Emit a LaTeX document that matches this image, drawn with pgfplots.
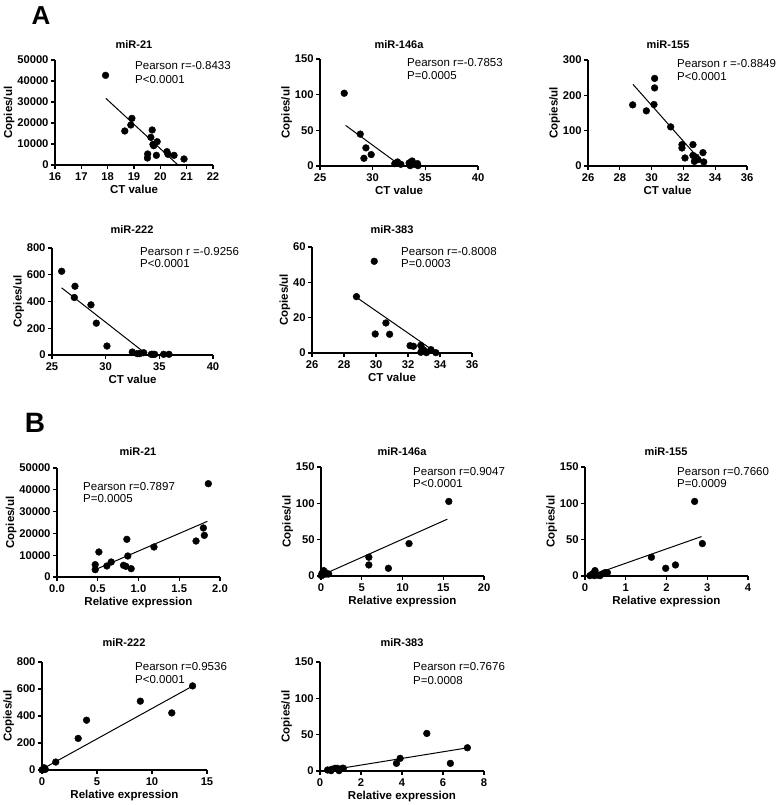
\documentclass[border=0pt]{standalone}
\usepackage{fontspec}
\setmainfont{Liberation Sans}
\usepackage{pgfplots}
\pgfplotsset{compat=1.18}
\pgfplotsset{
  gp/.style={
    scale only axis,
    axis x line*=bottom, axis y line*=left,
    axis line style={-, line width=1.3bp, black},
    tick align=outside, major tick length=4bp,
    tick style={line width=1.3bp, black},
    ticklabel style={font=\bfseries\fontsize{11.2bp}{13bp}\selectfont},
    yticklabel style={xshift=1bp},
    scaled ticks=false,
    /pgf/number format/assume math mode=true,
    /pgf/number format/fixed,
    /pgf/number format/set thousands separator={},
    xlabel style={font=\bfseries\fontsize{11.5bp}{13bp}\selectfont, yshift=2bp},
    ylabel style={font=\bfseries\fontsize{11.5bp}{13bp}\selectfont, yshift=-4bp},
    clip=false, anchor=south west,
  },
  dots/.style={only marks, mark=*, mark size=3.4bp, black, mark options={fill=black}},
  fitl/.style={no marks, black, line width=1bp},
}
\newcommand{\ttl}[3]{\node[font=\bfseries\fontsize{11bp}{12bp}\selectfont] at (#1bp,#2bp) {#3};}
\newcommand{\prs}[5]{%
  \node[anchor=west, inner sep=0pt, font=\fontsize{11.5bp}{13bp}\selectfont] at (#1bp,#2bp) {#4};
  \node[anchor=west, inner sep=0pt, font=\fontsize{11.5bp}{13bp}\selectfont] at (#1bp,#3bp) {#5};}
\begin{document}
\begin{tikzpicture}
\useasboundingbox (0,0) rectangle (780bp,805bp);
% ---------------- A row 1 ----------------
\begin{axis}[gp, at={(55bp,640bp)}, width=158bp, height=105bp,
  xmin=16, xmax=22, xtick={16,17,...,22}, ymin=0, ymax=50000, ytick={0,10000,...,50000},
  xlabel={CT value}, ylabel={Copies/ul}]
\addplot[dots] coordinates {(17.92,42700) (18.65,16190) (18.92,22200) (18.88,19050) (19.52,5240) (19.51,3330) (19.69,16670) (19.64,13170) (19.75,9200) (19.88,11100) (19.72,9800) (19.85,4600) (20.25,6350) (20.29,5080) (20.52,4600) (20.90,2860)};
\addplot[fitl] coordinates {(17.93,31750) (20.67,0)};
\end{axis}
\begin{axis}[gp, at={(320bp,639bp)}, width=158bp, height=107bp,
  xmin=25, xmax=40, xtick={25,30,35,40}, ymin=0, ymax=150, ytick={0,50,100,150},
  xlabel={CT value}, ylabel={Copies/ul}]
\addplot[dots] coordinates {(27.3,102) (28.82,44.7) (29.36,25.4) (29.17,10.8) (29.86,16) (32.1,3.3) (32.36,5.6) (32.67,2.4) (33.46,4.2) (33.75,7) (33.56,0.5) (33.94,2.4) (34.25,3.3) (34.3,0.5) (33.6,5)};
\addplot[fitl] coordinates {(27.43,56.9) (32.7,0)};
\end{axis}
\begin{axis}[gp, at={(588bp,639bp)}, width=159bp, height=106bp,
  xmin=26, xmax=36, xtick={26,28,...,36}, ymin=0, ymax=300, ytick={0,100,200,300},
  xlabel={CT value}, ylabel={Copies/ul}]
\addplot[dots] coordinates {(30.19,247.9) (30.19,221) (30.15,174) (28.81,173) (29.67,156) (31.20,110.7) (31.91,60.5) (31.91,51) (32.10,22.7) (32.60,60.5) (32.60,30) (32.69,13) (32.92,18) (33.23,37.8) (33.28,11.4) (32.80,25)};
\addplot[fitl] coordinates {(28.83,231) (33.38,0)};
\end{axis}
% ---------------- A row 2 ----------------
\begin{axis}[gp, at={(52bp,450bp)}, width=161bp, height=107bp,
  xmin=25, xmax=40, xtick={25,30,35,40}, ymin=0, ymax=800, ytick={0,200,...,800},
  xlabel={CT value}, ylabel={Copies/ul}]
\addplot[dots] coordinates {(25.9,626) (27.14,514) (27.08,430) (28.63,375) (29.13,238) (30.12,67) (32.48,22) (32.95,10) (33.17,10) (33.54,17) (34.25,5) (34.56,5) (35.4,5) (35.9,5) (34.4,5)};
\addplot[fitl] coordinates {(25.9,502) (33.9,0)};
\end{axis}
\begin{axis}[gp, at={(312bp,452bp)}, width=160bp, height=106bp,
  xmin=26, xmax=36, xtick={26,28,...,36}, ymin=0, ymax=60, ytick={0,20,40,60},
  xlabel={CT value}, ylabel={Copies/ul}]
\addplot[dots] coordinates {(29.89,51.9) (28.78,31.9) (29.95,10.75) (30.62,17) (30.85,10.6) (32.13,4.15) (32.34,3.8) (32.8,4.3) (32.8,0.4) (33.0,1.5) (33.15,0.2) (33.43,1.9) (33.74,0.2) (32.89,2.3)};
\addplot[fitl] coordinates {(28.78,31.5) (33.8,0)};
\end{axis}
% ---------------- B row 1 ----------------
\begin{axis}[gp, at={(57bp,228bp)}, width=163bp, height=109bp,
  xmin=0, xmax=2, xtick={0,0.5,1,1.5,2}, ymin=0, ymax=50000, ytick={0,10000,...,50000},
  xticklabel style={/pgf/number format/.cd, fixed, fixed zerofill, precision=1},
  xlabel={Relative expression}, ylabel={Copies/ul}]
\addplot[dots] coordinates {(1.857,42800) (1.796,22500) (1.808,19100) (1.706,16500) (1.19,13760) (0.857,17280) (0.869,9630) (0.514,11470) (0.665,6880) (0.612,5050) (0.816,5350) (0.845,4900) (0.91,3820) (0.469,5660) (0.469,3360)};
\addplot[fitl] coordinates {(0.469,3360) (1.845,25530)};
\end{axis}
\begin{axis}[gp, at={(321bp,229bp)}, width=163bp, height=109bp,
  xmin=0, xmax=20, xtick={0,5,...,20}, ymin=0, ymax=150, ytick={0,50,100,150},
  xlabel={Relative expression}, ylabel={Copies/ul}]
\addplot[dots] coordinates {(15.68,102.6) (10.8,44.6) (5.87,25.8) (5.87,15.2) (8.27,10.6) (0.33,7.4) (0.12,3.7) (0.5,5) (0.73,2.8) (0.94,2.8) (0.24,1.4) (0.04,0.5)};
\addplot[fitl] coordinates {(0.33,2.3) (15.5,78.2)};
\end{axis}
\begin{axis}[gp, at={(585bp,229bp)}, width=163bp, height=109bp,
  xmin=0, xmax=4, xtick={0,1,...,4}, ymin=0, ymax=150, ytick={0,50,100,150},
  xlabel={Relative expression}, ylabel={Copies/ul}]
\addplot[dots] coordinates {(2.69,102.6) (2.88,44.6) (1.63,25.8) (1.98,10.6) (2.22,15.2) (0.245,7.4) (0.18,2.8) (0.31,1.4) (0.42,2.8) (0.49,4.6) (0.55,4.6) (0.12,0.5) (0.23,0.5) (0.37,0.5)};
\addplot[fitl] coordinates {(0.16,1) (2.86,54.3)};
\end{axis}
% ---------------- B row 2 ----------------
\begin{axis}[gp, at={(42bp,35bp)}, width=165bp, height=108bp,
  xmin=0, xmax=15, xtick={0,5,10,15}, ymin=0, ymax=800, ytick={0,200,...,800},
  xlabel={Relative expression}, ylabel={Copies/ul}]
\addplot[dots] coordinates {(13.69,623) (8.94,510) (11.8,423) (4.05,369) (3.29,234) (1.25,59) (0.18,17) (0.09,2) (0.3,5) (0.0,0.5)};
\addplot[fitl] coordinates {(0.05,8) (13.72,623)};
\end{axis}
\begin{axis}[gp, at={(320bp,34bp)}, width=164bp, height=109bp,
  xmin=0, xmax=8, xtick={0,2,...,8}, ymin=0, ymax=150, ytick={0,50,100,150},
  xlabel={Relative expression}, ylabel={Copies/ul}]
\addplot[dots] coordinates {(7.19,32) (5.21,51.7) (6.36,10.5) (3.91,17.4) (3.73,10.5) (0.37,1.4) (0.57,2.3) (0.73,3.7) (0.84,3.7) (0.93,0.5) (1.09,3.7) (1.14,3.7) (0.54,0.5)};
\addplot[fitl] coordinates {(0.32,0.5) (7.22,32)};
\end{axis}
% ---------------- titles ----------------
\ttl{134}{760}{miR-21}
\ttl{399}{760}{miR-146a}
\ttl{668}{760}{miR-155}
\ttl{132}{575}{miR-222}
\ttl{392}{575}{miR-383}
\ttl{138}{353}{miR-21}
\ttl{402}{353}{miR-146a}
\ttl{666}{353}{miR-155}
\ttl{124}{162}{miR-222}
\ttl{402}{162}{miR-383}
% ---------------- statistics ----------------
\prs{135}{739}{725}{Pearson r=-0.8433}{P<0.0001}
\prs{407}{742}{729}{Pearson r=-0.7853}{P=0.0005}
\prs{677}{741}{728}{Pearson r =-0.8849}{P<0.0001}
\prs{140}{553}{541}{Pearson r =-0.9256}{P<0.0001}
\prs{401}{553}{541}{Pearson r=-0.8008}{P=0.0003}
\prs{83}{318}{306}{Pearson r=0.7897}{P=0.0005}
\prs{413}{333}{321}{Pearson r=0.9047}{P<0.0001}
\prs{677}{333}{321}{Pearson r=0.7660}{P=0.0009}
\prs{135}{138}{125}{Pearson r=0.9536}{P<0.0001}
\prs{413}{138}{124}{Pearson r=0.7676}{P=0.0008}
% ---------------- panel letters ----------------
\node[font=\bfseries\fontsize{26bp}{28bp}\selectfont] at (41bp,789bp) {A};
\node[font=\bfseries\fontsize{28bp}{30bp}\selectfont] at (35bp,382bp) {B};
\end{tikzpicture}
\end{document}
